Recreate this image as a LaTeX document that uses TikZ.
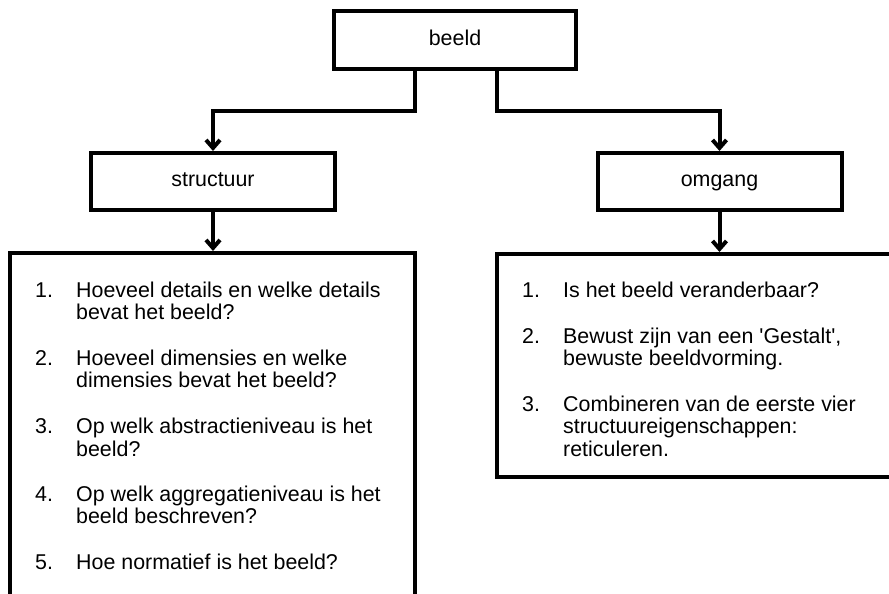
\documentclass[tikz,border=0pt]{standalone}
\usepackage{fontspec}
\setmainfont{Liberation Sans}
\usetikzlibrary{arrows.meta,calc}

\begin{document}
\begin{tikzpicture}[x=1bp,y=-1bp,
  every node/.style={font=\fontsize{21.4bp}{22.5bp}\selectfont, inner sep=0pt},
  box/.style={draw, line width=4bp},
  headbox/.style={box, minimum width=242bp, minimum height=58bp, text height=15bp, text depth=4.5bp},
  listbox/.style={box},
  link/.style={line width=4bp, line join=miter, -{Straight Barb[length=8bp,width=14bp]}},
  itemnum/.style={anchor=base west},
  itemtxt/.style={anchor=base west}]
\useasboundingbox (0,0) rectangle (889,594);
\clip (0,0) rectangle (889,594);

% top level and the two branches
\node[headbox] (beeld) at (455,40.5) {beeld};
\node[headbox, minimum width=244bp, minimum height=57bp] (structuur) at (213,181.5) {structuur};
\node[headbox, minimum width=244bp, minimum height=57bp] (omgang) at (719.5,181.5) {omgang};

% question lists (running off the page edges)
\node[listbox, minimum width=405bp, minimum height=387bp] (lijstS) at (212.5,446.5) {};
\node[listbox, minimum width=450bp, minimum height=223bp] (lijstO) at (722,365.5) {};

% connectors
\draw[link] ($(beeld.south)+(-40,0)$) coordinate (bl) -- ++(0,40) -| (structuur.north);
\draw[link] ($(beeld.south)+(42,0)$) coordinate (br) -- ++(0,40) -| (omgang.north);
\draw[link] (structuur.south) -- (structuur.south |- lijstS.north);
\draw[link] (omgang.south) -- (omgang.south |- lijstO.north);

% structure questions
\node[itemnum] (s1n) at (35,297) {1.};
\node[itemtxt] (s1a) at (76,297) {Hoeveel details en welke details};
\node[itemtxt] (s1b) at (76,319.5) {bevat het beeld?};
\node[itemnum] (s2n) at (35,365) {2.};
\node[itemtxt] (s2a) at (76,365) {Hoeveel dimensies en welke};
\node[itemtxt] (s2b) at (76,387.5) {dimensies bevat het beeld?};
\node[itemnum] (s3n) at (35,433.5) {3.};
\node[itemtxt] (s3a) at (76,433.5) {Op welk abstractieniveau is het};
\node[itemtxt] (s3b) at (76,456) {beeld?};
\node[itemnum] (s4n) at (35,501) {4.};
\node[itemtxt] (s4a) at (76,501) {Op welk aggregatieniveau is het};
\node[itemtxt] (s4b) at (76,523.5) {beeld beschreven?};
\node[itemnum] (s5n) at (35,569) {5.};
\node[itemtxt] (s5a) at (76,569) {Hoe normatief is het beeld?};

% handling questions
\node[itemnum] (o1n) at (522,297) {1.};
\node[itemtxt] (o1a) at (563,297) {Is het beeld veranderbaar?};
\node[itemnum] (o2n) at (522,343) {2.};
\node[itemtxt] (o2a) at (563,343) {Bewust zijn van een \textquotesingle Gestalt\textquotesingle,};
\node[itemtxt] (o2b) at (563,365.5) {bewuste beeldvorming.};
\node[itemnum] (o3n) at (522,411) {3.};
\node[itemtxt] (o3a) at (563,411) {Combineren van de eerste vier};
\node[itemtxt] (o3b) at (563,433.5) {structuureigenschappen:};
\node[itemtxt] (o3c) at (563,456) {reticuleren.};
\end{tikzpicture}
\end{document}
